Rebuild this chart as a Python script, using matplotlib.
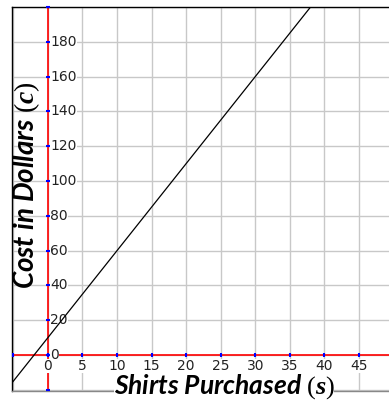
import matplotlib

matplotlib.use("Agg")
import matplotlib.pyplot as plt

# Values
x_grid = [-5, 0, 5, 10, 15, 20, 25, 30, 35, 40, 45]
x_labels = ["0", "5", "10", "15", "20", "25", "30", "35", "40", "45"]
x_label_pos = [0, 5, 10, 15, 20, 25, 30, 35, 40, 45]
y_grid = [-20, 0, 20, 40, 60, 80, 100, 120, 140, 160, 180, 200]
y_labels = ["0", "20", "40", "60", "80", "100", "120", "140", "160", "180"]
y_label_pos = [0, 20, 40, 60, 80, 100, 120, 140, 160, 180]

# cost line c = 5s + 10, endpoints beyond the frame
line_s = [-6, 40]
line_c = [-20, 210]

W, H = 389, 401
plt.rcParams["mathtext.fontset"] = "custom"
plt.rcParams["mathtext.rm"] = "Liberation Serif"
plt.rcParams["mathtext.it"] = "Liberation Serif:italic:bold"

fig = plt.figure(figsize=(W / 100, H / 100), dpi=100)
ax = fig.add_axes([12 / W, (H - 391) / H, (W - 12) / W, (391 - 7) / H])
ax.set_xlim(-5.2, 49.35)
ax.set_ylim(-20.7, 200)

for x in x_grid:
    ax.axvline(x, color="#c8c8c8", lw=1.0, zorder=1)
for y in y_grid:
    ax.axhline(y, color="#c8c8c8", lw=1.0, zorder=1)

ax.axhline(0, color="red", lw=1.2, zorder=2)
ax.axvline(0, color="red", lw=1.2, zorder=2)

ax.plot(line_s, line_c, color="black", lw=0.9, zorder=5)

# blue tick marks along the axes
ax.plot(x_grid, [0] * len(x_grid), ls="none", marker="|", ms=3, mew=1.5,
        color="blue", zorder=4, clip_on=False)
ax.plot([0] * len(y_grid), y_grid, ls="none", marker="_", ms=3, mew=1.5,
        color="blue", zorder=4, clip_on=False)

box = dict(facecolor="white", edgecolor="none", pad=0.3)
for y, lab in zip(y_label_pos, y_labels):
    ax.annotate(lab, (0, y), xytext=(2, 0), textcoords="offset pixels",
                ha="left", va="center", fontsize=10, color="#222222",
                bbox=box, zorder=3)
for x, lab in zip(x_label_pos, x_labels):
    ax.annotate(lab, (x, 0), xytext=(0, -4), textcoords="offset pixels",
                ha="center", va="top", fontsize=10, color="#222222",
                bbox=box, zorder=3)

ax.spines["right"].set_visible(False)
ax.spines["top"].set_color("black")
ax.spines["left"].set_color("black")
ax.spines["bottom"].set_color("#888888")
for side in ["top", "left", "bottom"]:
    ax.spines[side].set_linewidth(1.0)
ax.set_xticks([])
ax.set_yticks([])

lbl = dict(fontweight="bold", fontstyle="italic", family="Lato",
           color="black", zorder=6)
fig.text(224 / W, (H - 394) / H, r"Shirts Purchased $(s)$", ha="center",
         va="baseline", fontsize=19,
         bbox=dict(facecolor="white", edgecolor="none", pad=0), **lbl)
fig.text(27 / W, (H - 185) / H, r"Cost in Dollars $(c)$", ha="center",
         va="center", rotation=90, fontsize=20, **lbl)

fig.savefig("out.png", dpi=100)
